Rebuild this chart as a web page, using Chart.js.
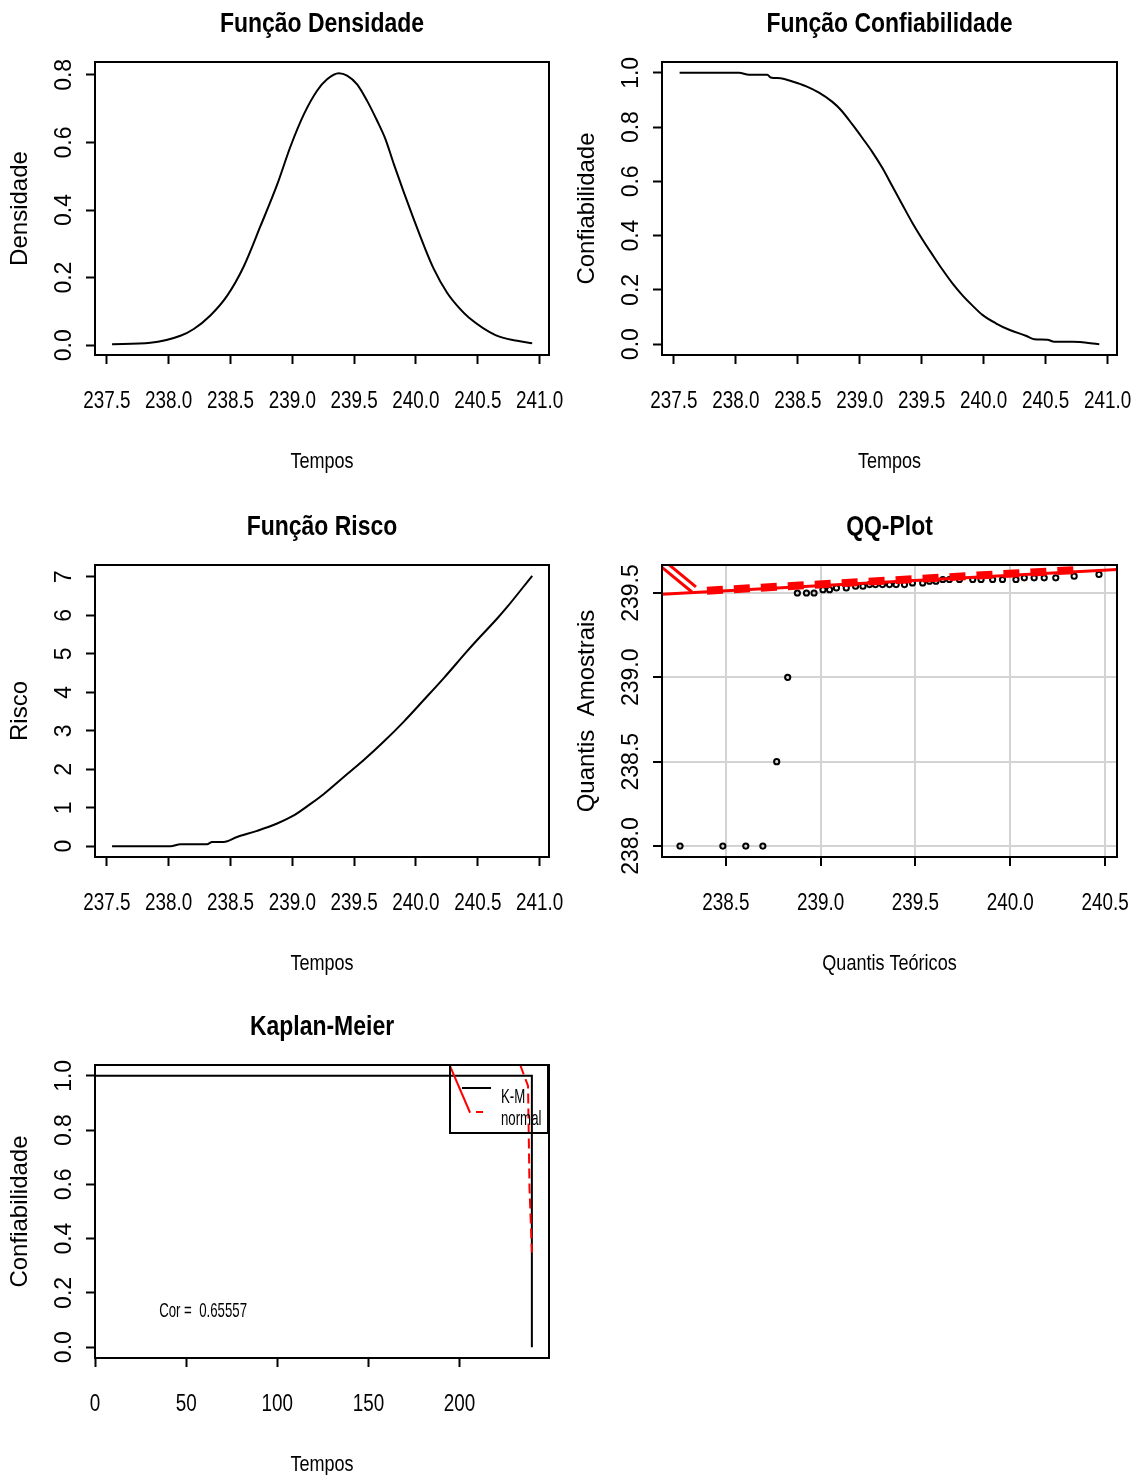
<!DOCTYPE html>
<html>
<head>
<meta charset="utf-8">
<script src="https://cdn.jsdelivr.net/npm/chart.js@4.4.1/dist/chart.umd.min.js"></script>
<style>
  html, body { margin: 0; padding: 0; background: #fff; overflow: hidden; }
  #page { position: relative; width: 1140px; height: 1475px; overflow: hidden; }
  .panel { position: absolute; }
</style>
</head>
<body>
<div id="page"></div>
<script>
// ---- values ----

// Função Densidade
const densTimes  = [237.542, 237.852, 238.095, 238.203, 238.337, 238.472, 238.607, 238.742, 238.877, 238.985,
                    239.093, 239.200, 239.281, 239.376, 239.443, 239.524, 239.605, 239.686, 239.753, 239.821,
                    239.902, 239.982, 240.063, 240.144, 240.252, 240.347, 240.427, 240.643, 240.819, 240.940];
const densValues = [0.003, 0.007, 0.028, 0.048, 0.088, 0.146, 0.233, 0.352, 0.475, 0.588,
                    0.683, 0.753, 0.787, 0.805, 0.798, 0.772, 0.723, 0.664, 0.610, 0.536,
                    0.452, 0.373, 0.296, 0.226, 0.155, 0.111, 0.082, 0.030, 0.013, 0.006];

// Função Confiabilidade
const confTimes  = [237.546, 238.025, 238.106, 238.254, 238.281, 238.362, 238.456, 238.564, 238.671, 238.779,
                    238.846, 238.940, 239.021, 239.102, 239.183, 239.263, 239.344, 239.425, 239.506, 239.586,
                    239.667, 239.748, 239.829, 239.910, 239.990, 240.098, 240.206, 240.340, 240.408, 240.515,
                    240.569, 240.717, 240.933];
const confValues = [1.000, 1.000, 0.993, 0.993, 0.983, 0.980, 0.968, 0.951, 0.927, 0.893,
                    0.864, 0.810, 0.760, 0.708, 0.649, 0.582, 0.514, 0.447, 0.386, 0.330,
                    0.275, 0.224, 0.180, 0.142, 0.108, 0.077, 0.053, 0.031, 0.018, 0.016,
                    0.009, 0.009, 0.000];

// Função Risco
const riskTimes  = [237.542, 238.014, 238.095, 238.310, 238.351, 238.445, 238.553, 238.715, 238.877, 239.012,
                    239.147, 239.255, 239.416, 239.578, 239.740, 239.902, 240.063, 240.225, 240.414, 240.495,
                    240.657, 240.738, 240.940];
const riskValues = [0.00, 0.00, 0.05, 0.05, 0.11, 0.11, 0.24, 0.40, 0.59, 0.80,
                    1.10, 1.36, 1.80, 2.24, 2.72, 3.24, 3.80, 4.37, 5.07, 5.36,
                    5.92, 6.22, 7.03];

// QQ-Plot
const qqTheoretical = [238.258, 238.484, 238.605, 238.695, 238.768, 238.826, 238.877, 238.925, 238.965, 239.012,
                       239.047, 239.083, 239.135, 239.184, 239.223, 239.258, 239.289, 239.326, 239.363, 239.398,
                       239.442, 239.484, 239.538, 239.574, 239.608, 239.644, 239.679, 239.732, 239.802, 239.846,
                       239.907, 239.959, 240.030, 240.074, 240.126, 240.179, 240.240, 240.337, 240.468];
const qqSample      = [238.00, 238.00, 238.00, 238.00, 238.50, 239.00, 239.50, 239.50, 239.50, 239.52,
                       239.52, 239.53, 239.53, 239.54, 239.54, 239.55, 239.55, 239.55, 239.55, 239.55,
                       239.55, 239.56, 239.56, 239.57, 239.57, 239.58, 239.58, 239.58, 239.58, 239.58,
                       239.58, 239.58, 239.58, 239.59, 239.59, 239.59, 239.59, 239.60, 239.61];
const qqLineX  = [238.163, 240.563];
const qqLineY  = [239.492, 239.640];
const qqBandX  = [238.400, 240.380];
const qqBandY  = [239.514, 239.638];
const qqEdgeAX = [238.189, 238.342];
const qqEdgeAY = [239.678, 239.536];
const qqEdgeBX = [238.163, 238.321];
const qqEdgeBY = [239.652, 239.506];

// Kaplan-Meier
const kmTimes    = [0, 239.7, 239.7];
const kmSurv     = [1, 1, 0];
const normTimes  = [233.3, 237.6, 238.4, 239.7];
const normSurv   = [1.04, 0.963, 0.588, 0.349];
const normEdgeX  = [194.8, 205.8];
const normEdgeY  = [1.036, 0.864];
const corText    = 'Cor =  0.65557';

// tick labels
const tempoTicks = [237.5, 238.0, 238.5, 239.0, 239.5, 240.0, 240.5, 241.0];
const densTicks  = [0.0, 0.2, 0.4, 0.6, 0.8];
const confTicks  = [0.0, 0.2, 0.4, 0.6, 0.8, 1.0];
const riskTicks  = [0, 1, 2, 3, 4, 5, 6, 7];
const qqXTicks   = [238.5, 239.0, 239.5, 240.0, 240.5];
const qqYTicks   = [238.0, 238.5, 239.0, 239.5];
const kmXTicks   = [0, 50, 100, 150, 200];

// ---- helpers ----
// no narrow font installed: a "SqueezeNN" family name marks text drawn at NN% width
const NARROW = "Squeeze82, 'Liberation Sans', Arial, sans-serif";
const TIGHT = "Squeeze63, 'Liberation Sans', Arial, sans-serif";
const REG = "'Liberation Sans', Arial, sans-serif";
const origFillText = CanvasRenderingContext2D.prototype.fillText;
CanvasRenderingContext2D.prototype.fillText = function (text, x, y, maxWidth) {
  const m = this.font.match(/Squeeze(\d+)/);
  if (!m) {
    return maxWidth === undefined ? origFillText.call(this, text, x, y) : origFillText.call(this, text, x, y, maxWidth);
  }
  this.save();
  this.translate(x, y);
  this.scale(m[1] / 100, 1);
  origFillText.call(this, text, 0, 0);
  this.restore();
};

const fix1 = v => v.toFixed(1);
const int0 = v => String(v);

const measure = document.createElement('canvas').getContext('2d');
function widest(labels) {
  measure.font = '23px ' + REG;
  return Math.max(...labels.map(l => measure.measureText(l).width));
}

function pts(xs, ys) {
  return xs.map((x, i) => ({ x: x, y: ys[i] }));
}

function curve(xs, ys) {
  return { data: pts(xs, ys), showLine: true, pointRadius: 0, borderColor: '#000', borderWidth: 2,
           cubicInterpolationMode: 'monotone' };
}

// box round the plot region, like R's bty="o"
const frame = {
  id: 'frame',
  afterDatasetsDraw(chart) {
    const a = chart.chartArea, c = chart.ctx;
    c.save();
    c.strokeStyle = '#000';
    c.lineWidth = 2;
    c.strokeRect(a.left, a.top, a.right - a.left, a.bottom - a.top);
    c.restore();
  }
};

function panel(box, cfg) {
  const w = box[2] - box[0], h = box[3] - box[1];
  const div = document.createElement('div');
  div.className = 'panel';
  div.style.left = (box[0] - 95) + 'px';
  div.style.top = (box[1] - 62) + 'px';
  const cv = document.createElement('canvas');
  cv.width = w + 95 + 50;
  cv.height = h + 62 + 130;
  div.appendChild(cv);
  document.getElementById('page').appendChild(div);

  const yPad = 30 - 9 - widest(cfg.yTicks.map(cfg.yFmt)) / 2;
  const gridOpts = cfg.grid
    ? { color: '#d3d3d3', lineWidth: 2, drawOnChartArea: true, tickColor: '#000', tickWidth: 2, tickLength: 9 }
    : { drawOnChartArea: false, tickColor: '#000', tickWidth: 2, tickLength: 9 };

  return new Chart(cv, {
    type: 'scatter',
    data: { datasets: cfg.datasets },
    options: {
      responsive: false,
      animation: false,
      devicePixelRatio: 1,
      layout: { padding: { left: 0, right: 50, top: 0, bottom: 0 } },
      plugins: {
        legend: { display: false },
        tooltip: { enabled: false },
        title: {
          display: true, text: cfg.title, fullSize: false, color: '#000',
          font: { family: NARROW, size: 28, weight: 'bold' },
          padding: { top: 7.2, bottom: 21.2 }
        }
      },
      scales: {
        x: {
          type: 'linear', min: cfg.xMin, max: cfg.xMax,
          afterFit: s => { s.height = 130; },
          afterBuildTicks: s => { s.ticks = cfg.xTicks.map(v => ({ value: v })); },
          ticks: { callback: cfg.xFmt, color: '#000', font: { family: NARROW, size: 23 },
                   padding: 24, minRotation: 0, maxRotation: 0, autoSkip: false },
          grid: gridOpts,
          border: { display: false },
          title: { display: true, text: cfg.xTitle, color: '#000',
                   font: { family: NARROW, size: 22 }, padding: { top: 0, bottom: 10 } }
        },
        y: {
          type: 'linear', min: cfg.yMin, max: cfg.yMax,
          afterFit: s => { s.width = 95; },
          afterBuildTicks: s => { s.ticks = cfg.yTicks.map(v => ({ value: v })); },
          ticks: { callback: cfg.yFmt, color: '#000', font: { family: REG, size: 23 },
                   padding: yPad, minRotation: 90, maxRotation: 90, crossAlign: 'center', autoSkip: false },
          grid: gridOpts,
          border: { display: false },
          title: { display: true, text: cfg.yTitle, color: '#000',
                   font: { family: REG, size: 24 }, padding: { top: 5.6, bottom: 0 } }
        }
      }
    },
    plugins: [frame].concat(cfg.extra || [])
  });
}

// legend and correlation note of the Kaplan-Meier panel
const kmNotes = {
  id: 'kmNotes',
  afterDatasetsDraw(chart) {
    const { ctx, chartArea: a, scales } = chart;
    const L = a.right - 99, T = a.top;
    ctx.save();
    ctx.strokeStyle = '#000';
    ctx.lineWidth = 2;
    ctx.strokeRect(L, T, 98, 68);
    ctx.beginPath(); ctx.moveTo(L + 12, T + 23); ctx.lineTo(L + 41, T + 23); ctx.stroke();
    ctx.strokeStyle = '#ff0000';
    ctx.beginPath(); ctx.moveTo(L + 26, T + 47); ctx.lineTo(L + 33, T + 47); ctx.stroke();
    ctx.fillStyle = '#000';
    ctx.font = '21px ' + TIGHT;
    ctx.textAlign = 'left';
    ctx.textBaseline = 'alphabetic';
    ctx.fillText('K-M', L + 51, T + 38);
    ctx.fillText('normal', L + 51, T + 60);
    ctx.textAlign = 'center';
    ctx.textBaseline = 'middle';
    ctx.fillText(corText, scales.x.getPixelForValue(59.3), scales.y.getPixelForValue(0.132));
    ctx.restore();
  }
};

// ---- the five panels ----
panel([95, 62, 549, 355], {
  title: 'Função Densidade', xTitle: 'Tempos', yTitle: 'Densidade',
  xMin: 237.404, xMax: 241.076, yMin: -0.029, yMax: 0.838,
  xTicks: tempoTicks, yTicks: densTicks, xFmt: fix1, yFmt: fix1,
  datasets: [curve(densTimes, densValues)]
});

panel([662, 62, 1117, 355], {
  title: 'Função Confiabilidade', xTitle: 'Tempos', yTitle: 'Confiabilidade',
  xMin: 237.404, xMax: 241.076, yMin: -0.04, yMax: 1.04,
  xTicks: tempoTicks, yTicks: confTicks, xFmt: fix1, yFmt: fix1,
  datasets: [curve(confTimes, confValues)]
});

panel([95, 565, 549, 857], {
  title: 'Função Risco', xTitle: 'Tempos', yTitle: 'Risco',
  xMin: 237.404, xMax: 241.076, yMin: -0.28, yMax: 7.31,
  xTicks: tempoTicks, yTicks: riskTicks, xFmt: fix1, yFmt: int0,
  datasets: [curve(riskTimes, riskValues)]
});

panel([662, 565, 1117, 857], {
  title: 'QQ-Plot', xTitle: 'Quantis Teóricos', yTitle: 'Quantis  Amostrais',
  xMin: 238.163, xMax: 240.563, yMin: 237.935, yMax: 239.666,
  xTicks: qqXTicks, yTicks: qqYTicks, xFmt: fix1, yFmt: fix1, grid: true,
  datasets: [
    { data: pts(qqBandX, qqBandY), showLine: true, pointRadius: 0, borderColor: '#ff0000',
      borderWidth: 8, borderDash: [16, 11], clip: 0 },
    { data: pts(qqLineX, qqLineY), showLine: true, pointRadius: 0, borderColor: '#ff0000', borderWidth: 3, clip: 0 },
    { data: pts(qqEdgeAX, qqEdgeAY), showLine: true, pointRadius: 0, borderColor: '#ff0000', borderWidth: 3, clip: 0 },
    { data: pts(qqEdgeBX, qqEdgeBY), showLine: true, pointRadius: 0, borderColor: '#ff0000', borderWidth: 3, clip: 0 },
    { data: pts(qqTheoretical, qqSample), showLine: false, pointRadius: 2.6, pointBorderWidth: 2,
      borderColor: '#000', backgroundColor: 'rgba(255,255,255,0)' }
  ]
});

panel([95, 1065, 549, 1358], {
  title: 'Kaplan-Meier', xTitle: 'Tempos', yTitle: 'Confiabilidade',
  xMin: 0, xMax: 249.1, yMin: -0.04, yMax: 1.04,
  xTicks: kmXTicks, yTicks: confTicks, xFmt: int0, yFmt: fix1,
  extra: [kmNotes],
  datasets: [
    { data: pts(normTimes, normSurv), showLine: true, pointRadius: 0, borderColor: '#ff0000',
      borderWidth: 2, borderDash: [10, 5], clip: 0 },
    { data: pts(normEdgeX, normEdgeY), showLine: true, pointRadius: 0, borderColor: '#ff0000', borderWidth: 2, clip: 0 },
    { data: pts(kmTimes, kmSurv), showLine: true, pointRadius: 0, borderColor: '#000', borderWidth: 2, clip: 0 }
  ]
});
</script>
</body>
</html>
